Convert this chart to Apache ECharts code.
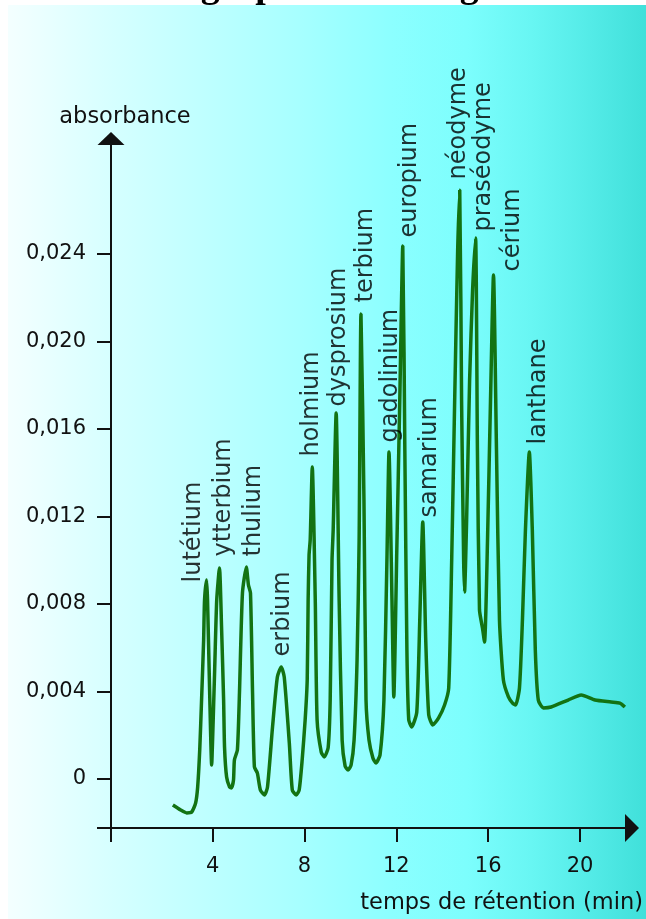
<!DOCTYPE html>
<html><head><meta charset="utf-8">
<script src="https://cdn.jsdelivr.net/npm/echarts@6/dist/echarts.min.js"></script>
<style>html,body{margin:0;padding:0;background:#fff}#c{width:646px;height:919px}</style>
</head><body><div id="c"></div>
<script>
// ---- data ----
const times = [2.27,2.61,2.87,3.09,3.26,3.35,3.44,3.52,3.61,3.65,3.74,3.78,3.87,3.96,4.00,4.09,4.18,4.30,4.39,4.48,4.52,4.61,4.74,4.82,4.91,4.95,5.08,5.17,5.30,5.47,5.56,5.65,5.74,5.82,5.95,6.08,6.26,6.39,6.61,6.82,6.99,7.12,7.34,7.47,7.64,7.77,7.90,8.03,8.12,8.16,8.20,8.25,8.34,8.47,8.55,8.73,8.86,9.03,9.12,9.20,9.25,9.38,9.51,9.64,9.77,9.90,10.03,10.16,10.29,10.38,10.46,10.59,10.68,10.81,10.98,11.11,11.29,11.46,11.59,11.68,11.81,11.89,12.02,12.15,12.28,12.37,12.46,12.54,12.67,12.89,13.02,13.15,13.28,13.41,13.59,13.84,14.10,14.28,14.41,14.54,14.67,14.76,14.84,14.93,14.97,15.06,15.19,15.32,15.45,15.53,15.62,15.75,15.84,15.97,16.10,16.23,16.36,16.49,16.66,16.88,17.06,17.19,17.36,17.49,17.62,17.79,17.92,18.05,18.18,18.40,18.74,19.48,20.05,20.65,21.35,21.73,21.95];
const absorbance = [-0.00119,-0.00142,-0.00155,-0.00151,-0.00110,-0.00037,0.00133,0.00361,0.00635,0.00818,0.00910,0.00818,0.00407,0.00064,0.00178,0.00498,0.00818,0.00965,0.00695,0.00361,0.00146,0.00009,-0.00037,-0.00041,-0.00005,0.00087,0.00133,0.00393,0.00850,0.00969,0.00887,0.00850,0.00393,0.00055,0.00027,-0.00050,-0.00073,-0.00037,0.00238,0.00466,0.00512,0.00466,0.00165,-0.00050,-0.00073,-0.00050,0.00087,0.00270,0.00453,0.00818,0.01024,0.01093,0.01426,0.00818,0.00270,0.00123,0.00101,0.00142,0.00361,0.01001,0.01138,0.01673,0.00818,0.00178,0.00059,0.00041,0.00064,0.00178,0.00544,0.01093,0.02126,0.01275,0.00361,0.00178,0.00096,0.00073,0.00110,0.00361,0.01001,0.01495,0.00818,0.00375,0.01047,0.01733,0.02437,0.01504,0.00590,0.00270,0.00238,0.00306,0.00727,0.01175,0.00635,0.00293,0.00247,0.00279,0.00338,0.00416,0.01001,0.01733,0.02418,0.02693,0.01733,0.01001,0.00855,0.01184,0.01824,0.02235,0.02473,0.01504,0.00773,0.00690,0.00626,0.01093,0.01733,0.02304,0.01504,0.00727,0.00453,0.00375,0.00347,0.00338,0.00416,0.00727,0.01138,0.01495,0.01138,0.00590,0.00361,0.00325,0.00329,0.00361,0.00384,0.00361,0.00352,0.00347,0.00329];
const peakNames = ['lutétium','ytterbium','thulium','erbium','holmium','dysprosium','terbium','gadolinium','europium','samarium','néodyme','praséodyme','cérium','lanthane'];
const peakTimes = [3.74,4.30,5.47,6.99,8.34,9.38,10.46,11.68,12.28,13.15,14.76,15.45,16.23,17.79];
const peakValues = [0.00910,0.00965,0.00969,0.00512,0.01426,0.01673,0.02126,0.01495,0.02437,0.01175,0.02693,0.02473,0.02304,0.01495];
const xTickLabels = [4,8,12,16,20];
const yTickLabels = [0,0.004,0.008,0.012,0.016,0.020,0.024];
const titleText = "Chromatographie d'échange d'ions";
const xName = 'temps de rétention (min)';
const yName = 'absorbance';

// ---- layout / style (not data) ----
const xMin = -0.423, xMax = 22.26, yMin = -0.00224, yMax = 0.02928;
// label nudges in the label's own (rotated) frame: [along text, across text]
const labelNudges = [[-3,-13],[11,4],[10,7],[10,1],[10,-1],[6,3],[11,5],[9,2],[8,7],[4,7],[10,-1],[6,8],[3,19],[7,9]];
const FONT = 'DejaVu Sans';
const INK = '#111';

// fit the (mostly cropped) title so its descenders land where the picture shows them
const cv = document.createElement('canvas').getContext('2d');
function tw(sz, s) { cv.font = 'bold ' + sz + 'px "Liberation Serif"'; return cv.measureText(s).width; }
const g1 = tw(36, 'Chromato') + tw(36, 'g') / 2;
const g2 = tw(36, "Chromatographie d'échan") + tw(36, 'g') / 2;
const titleSize = 36 * (469 - 210) / (g2 - g1);
const titleX = 210 - (tw(titleSize, 'Chromato') + tw(titleSize, 'g') / 2);

const chart = echarts.init(document.getElementById('c'), null, {renderer: 'canvas'});
chart.setOption({
  backgroundColor: '#fff',
  animation: false,
  graphic: [
    {type: 'text', z: -200, x: titleX, y: 6, silent: true,
     style: {text: titleText, font: 'bold ' + titleSize.toFixed(2) + 'px "Liberation Serif"', fill: '#000', align: 'left', verticalAlign: 'bottom'}},
    {type: 'rect', z: -100, silent: true, shape: {x: 8, y: 5, width: 638, height: 914},
     style: {fill: new echarts.graphic.LinearGradient(0, 0, 1, 0, [
       {offset: 0, color: '#f4ffff'}, {offset: 0.15, color: '#d8ffff'}, {offset: 0.3, color: '#c0ffff'},
       {offset: 0.45, color: '#a8ffff'}, {offset: 0.6, color: '#8cffff'}, {offset: 0.72, color: '#7cfefd'},
       {offset: 0.82, color: '#68f6f3'}, {offset: 0.92, color: '#52eae6'}, {offset: 1, color: '#40e0da'}])}}
  ],
  grid: {left: 111, right: 12, top: 138.5, bottom: 91, containLabel: false},
  xAxis: {
    type: 'value', min: xMin, max: xMax, splitLine: {show: false},
    axisLine: {show: true, onZero: false, lineStyle: {color: INK, width: 2}, symbol: ['none', 'triangle'], symbolSize: [28, 14]},
    axisTick: {show: true, inside: false, length: 14, lineStyle: {color: INK, width: 2}, customValues: [xMin].concat(xTickLabels)},
    axisLabel: {customValues: xTickLabels, margin: 28, color: INK, fontFamily: FONT, fontSize: 21},
    name: xName, nameLocation: 'end', nameGap: 11,
    nameTextStyle: {color: INK, fontFamily: FONT, fontSize: 22.5, align: 'right', verticalAlign: 'top', padding: [64, 0, 0, 0]}
  },
  yAxis: {
    type: 'value', min: yMin, max: yMax, splitLine: {show: false},
    axisLine: {show: true, onZero: false, lineStyle: {color: INK, width: 2}, symbol: ['none', 'triangle'], symbolSize: [27, 13]},
    axisTick: {show: true, inside: false, length: 14, lineStyle: {color: INK, width: 2}, customValues: [yMin].concat(yTickLabels)},
    axisLabel: {customValues: yTickLabels, margin: 25, color: INK, fontFamily: FONT, fontSize: 21,
      formatter: v => Math.abs(v) < 1e-9 ? '0' : v.toFixed(3).replace('.', ',')},
    name: yName, nameLocation: 'end', nameGap: 10,
    nameTextStyle: {color: INK, fontFamily: FONT, fontSize: 22.5, align: 'center', padding: [0, 0, 0, 28]}
  },
  series: [
    {type: 'line', silent: true, showSymbol: false, smooth: 0.2, z: 3,
     data: times.map((t, i) => [t, absorbance[i]]),
     lineStyle: {color: '#137313', width: 3.5}},
    {type: 'scatter', silent: true, symbolSize: 1, z: 4, itemStyle: {color: 'transparent'},
     data: peakNames.map((n, i) => ({name: n, value: [peakTimes[i], peakValues[i]], label: {offset: labelNudges[i]}})),
     label: {show: true, formatter: '{b}', position: 'top', distance: 0, align: 'left', verticalAlign: 'middle', rotate: 90,
       color: '#000', fontFamily: FONT, fontSize: 24}}
  ]
});
</script>
</body></html>
